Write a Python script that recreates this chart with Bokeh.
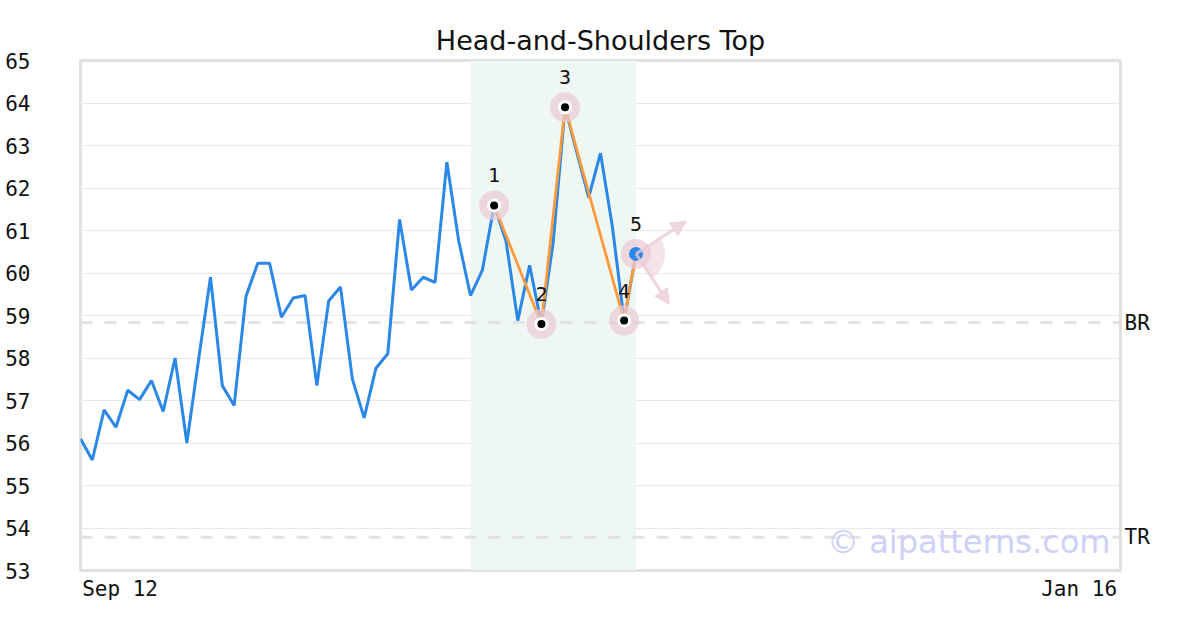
import math
from bokeh.plotting import figure
from bokeh.models import (Range1d, FixedTicker, LinearAxis, Span, BoxAnnotation,
                          Arrow, NormalHead, Label, ColumnDataSource)
from bokeh.core.properties import value
from bokeh.embed import file_html
from bokeh.resources import INLINE

# ---------------- data ----------------
prices = [56.1, 55.6, 56.78, 56.37, 57.24, 57.02, 57.47, 56.74, 58.0, 56.0,
          57.98, 59.9, 57.35, 56.88, 59.45, 60.23, 60.23, 58.96, 59.41, 59.47,
          57.35, 59.34, 59.67, 57.51, 56.59, 57.76, 58.1, 61.26, 59.6, 59.9,
          59.78, 62.61, 60.76, 59.47, 60.06, 61.59, 60.76, 58.88, 60.18, 58.8,
          60.73, 63.9, 62.83, 61.78, 62.82, 61.1, 58.88, 60.45]
n_days = 88                      # trading days from Sep 12 to Jan 16
x_tick_labels = ["Sep 12", "Jan 16"]
y_ticks = list(range(53, 66))

pivot_idx = [35, 39, 41, 46, 47]
pivot_names = ["1", "2", "3", "4", "5"]
pattern_start, pattern_end = 33, 47

level_names = ["BR", "TR"]
level_values = [58.835, 53.78]

# projected moves from point 5
proj_x = [51.27, 49.83]
proj_y = [61.22, 59.26]

watermark = "\u00a9 aipatterns.com"
title = "Head-and-Shoulders Top"

# ---------------- figure ----------------
BLUE = "#2b87e8"
ORANGE = "#ff9a3d"
PINK = "#e9c9d3"
GRID = "#e9e9e9"
BORDER = "#e0e0e0"
MONO = "DejaVu Sans Mono"

W, H = 1200, 630
ML, MR, MT, MB = 80, 80, 60, 60

p = figure(width=W, height=H, output_backend="svg", toolbar_location=None,
           x_range=Range1d(0, n_days), y_range=Range1d(53, 65),
           min_border_left=ML, min_border_right=MR, min_border_top=MT,
           min_border_bottom=MB, title=title)
p.title.text_font = "DejaVu Sans"
p.title.text_font_size = "27px"
p.title.text_font_style = "normal"
p.title.align = "center"
p.title.text_color = "#111111"
p.title.standoff = 9

p.outline_line_color = BORDER
p.outline_line_width = 3
p.background_fill_color = "white"
p.border_fill_color = "white"

# axes
p.xgrid.visible = False
p.ygrid.grid_line_color = GRID
p.ygrid.grid_line_width = 1
p.ygrid.ticker = FixedTicker(ticks=y_ticks)

for ax in (p.xaxis[0], p.yaxis[0]):
    ax.axis_line_color = None
    ax.major_tick_line_color = None
    ax.minor_tick_line_color = None
    ax.major_label_text_font = MONO
    ax.major_label_text_font_size = "21px"
    ax.major_label_text_color = "#111111"

p.yaxis[0].ticker = FixedTicker(ticks=y_ticks)
p.yaxis[0].major_label_standoff = 44

label_w = 3.35  # half label width in index units
x_tick_pos = [label_w, n_days - 3.5]
p.xaxis[0].ticker = FixedTicker(ticks=x_tick_pos)
p.xaxis[0].major_label_overrides = {x_tick_pos[i]: x_tick_labels[i] for i in range(2)}
p.xaxis[0].major_label_standoff = 0

right = LinearAxis(ticker=FixedTicker(ticks=level_values),
                   major_label_overrides={level_values[i]: level_names[i] for i in range(2)})
right.axis_line_color = None
right.major_tick_line_color = None
right.minor_tick_line_color = None
right.major_label_text_font = MONO
right.major_label_text_font_size = "21px"
right.major_label_text_color = "#111111"
right.major_label_standoff = -2
p.add_layout(right, "right")

# pattern window
p.add_layout(BoxAnnotation(left=pattern_start, right=pattern_end, fill_color="#eef7f2",
                           fill_alpha=1.0, line_color=None, level="underlay"))

# levels (drawn beneath the data marks)
for v in level_values:
    p.add_layout(Span(location=v, dimension="width", line_color="#e2e2e2",
                      line_width=3, line_dash="12 12", level="underlay"))

# watermark
p.add_layout(Label(x=n_days, y=53.66, x_offset=-10, text=watermark, text_align="right",
                   text_baseline="middle", text_font="DejaVu Sans",
                   text_font_size="32px", text_color="#cfcffa"))

# price line
xs = list(range(len(prices)))
p.line(xs, prices, line_color=BLUE, line_width=3)

# pattern
px = pivot_idx
py = [prices[i] for i in pivot_idx]
p.line(px, py, line_color=ORANGE, line_width=2.8)

# projections from point 5 (wedge spans between the two projected directions)
sx = (W - ML - MR) / n_days
sy = (H - MT - MB) / 12.0
angs = [math.atan2((ty - py[-1]) * sy, (tx - px[-1]) * sx) for tx, ty in zip(proj_x, proj_y)]
p.wedge(x=[px[-1]], y=[py[-1]], radius=29, radius_units="screen",
        start_angle=min(angs), end_angle=max(angs), fill_color=PINK, fill_alpha=0.5,
        line_color=None)
for tx, ty in zip(proj_x, proj_y):
    p.add_layout(Arrow(end=NormalHead(size=15, fill_color=PINK, fill_alpha=0.75,
                                      line_color=PINK, line_alpha=0.75),
                       x_start=px[-1], y_start=py[-1], x_end=tx, y_end=ty,
                       line_color=PINK, line_alpha=0.75, line_width=3))

src = ColumnDataSource(dict(x=px, y=py, name=pivot_names))
p.scatter("x", "y", source=src, size=30, fill_color=PINK, fill_alpha=0.7, line_color=None)
p.scatter(px[:-1], py[:-1], size=14, fill_color="white", line_color=None)
p.scatter(px[:-1], py[:-1], size=8, fill_color="black", line_color=None)
p.scatter([px[-1]], [py[-1]], size=14, fill_color=BLUE, line_color=None)

p.text("x", "y", text="name", source=src, y_offset=-30, text_align="center",
       text_baseline="middle", text_font=value(MONO), text_font_size="20px",
       text_color="#111111")

open("out.html", "w").write(file_html(p, INLINE))
